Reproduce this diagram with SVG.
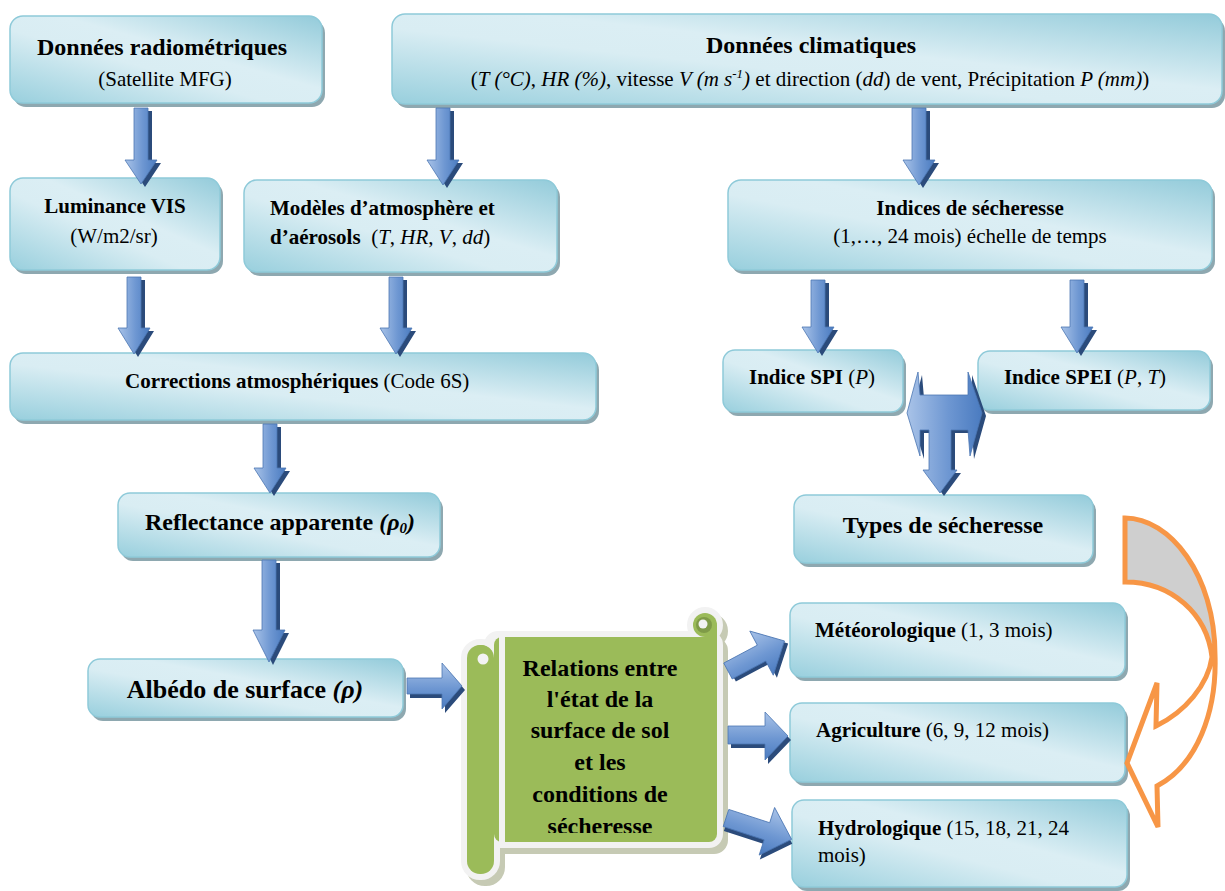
<svg xmlns="http://www.w3.org/2000/svg" width="1225" height="891" viewBox="0 0 1225 891">
  <defs>
    <linearGradient id="boxGrad" x1="1" y1="0" x2="0" y2="1">
      <stop offset="0" stop-color="#93cbda"/>
      <stop offset="0.42" stop-color="#dbeef4"/>
      <stop offset="0.58" stop-color="#d9edf3"/>
      <stop offset="1" stop-color="#98cfdd"/>
    </linearGradient>
    <linearGradient id="arrV" x1="0" y1="0" x2="1" y2="0">
      <stop offset="0" stop-color="#a9c3e8"/>
      <stop offset="0.55" stop-color="#6e97d2"/>
      <stop offset="1" stop-color="#4a7bc0"/>
    </linearGradient>
    <linearGradient id="arrH" x1="0" y1="0" x2="0" y2="1">
      <stop offset="0" stop-color="#a9c3e8"/>
      <stop offset="0.55" stop-color="#6e97d2"/>
      <stop offset="1" stop-color="#4a7bc0"/>
    </linearGradient>
    <clipPath id="scrollTextClip">
      <rect x="490" y="640" width="225" height="193"/>
    </clipPath>
    <style>
      .box { fill: url(#boxGrad); stroke: #8ecad9; stroke-width: 1.5; }
      .shd { fill: #8ea8b0; }
      .t { font-family: "Liberation Serif", "Times New Roman", serif; fill: #000; }
      .b { font-weight: bold; }
      .i { font-style: italic; }
      .arr { fill: url(#arrV); stroke: #4b76b3; stroke-width: 0.8; }
      .arrh { fill: url(#arrH); stroke: #4b76b3; stroke-width: 0.8; }
      .arrS { fill: #2b4b7b; }
      .green { fill: #9bbb59; }
    </style>
  </defs>

  <!-- Source data -->
  <g id="radiometric">
    <rect class="shd" x="13" y="20" width="312" height="87" rx="13"/>
    <rect class="box" x="10" y="16" width="312" height="87" rx="13"/>
    <text class="t b" x="162" y="55" font-size="24" text-anchor="middle">Données radiométriques</text>
    <text class="t" x="165" y="86" font-size="21" text-anchor="middle">(Satellite MFG)</text>
  </g>

  <g id="climatic">
    <rect class="shd" x="395" y="18" width="830" height="90" rx="13"/>
    <rect class="box" x="392" y="14" width="830" height="90" rx="13"/>
    <text class="t b" x="811" y="53" font-size="24" text-anchor="middle">Données climatiques</text>
    <text class="t" x="810" y="86" font-size="21" text-anchor="middle">(<tspan class="i">T (°C)</tspan>, <tspan class="i">HR (%)</tspan>, vitesse <tspan class="i">V (m s</tspan><tspan class="i" font-size="13" dy="-8">-1</tspan><tspan class="i" dy="8">)</tspan> et direction (<tspan class="i">dd</tspan>) de vent, Précipitation <tspan class="i">P (mm)</tspan>)</text>
  </g>

  <!-- Processing chain -->
  <g id="luminance">
    <rect class="shd" x="13" y="182" width="210" height="92" rx="13"/>
    <rect class="box" x="10" y="178" width="210" height="92" rx="13"/>
    <text class="t b" x="115" y="213" font-size="21" text-anchor="middle">Luminance VIS</text>
    <text class="t" x="114" y="243" font-size="21" text-anchor="middle">(W/m2/sr)</text>
  </g>

  <g id="models">
    <rect class="shd" x="247" y="184" width="313" height="92" rx="13"/>
    <rect class="box" x="244" y="180" width="313" height="92" rx="13"/>
    <text class="t b" x="270" y="215" font-size="21">Modèles d’atmosphère et</text>
    <text class="t" x="270" y="244" font-size="21"><tspan class="b">d’aérosols</tspan>&#160; (<tspan class="i">T</tspan>, <tspan class="i">HR</tspan>, <tspan class="i">V</tspan>, <tspan class="i">dd</tspan>)</text>
  </g>

  <g id="corrections">
    <rect class="shd" x="13" y="357" width="586" height="67" rx="13"/>
    <rect class="box" x="10" y="353" width="586" height="67" rx="13"/>
    <text class="t" x="125" y="388" font-size="21"><tspan class="b">Corrections atmosphériques</tspan> (Code 6S)</text>
  </g>

  <g id="reflectance">
    <rect class="shd" x="121" y="497" width="322" height="64" rx="12"/>
    <rect class="box" x="118" y="493" width="322" height="64" rx="12"/>
    <text class="t b" x="280" y="530" font-size="24" text-anchor="middle">Reflectance apparente <tspan class="i">(ρ<tspan font-size="15" dy="3">0</tspan><tspan dy="-3">)</tspan></tspan></text>
  </g>

  <g id="albedo">
    <rect class="shd" x="91" y="663" width="315" height="58" rx="12"/>
    <rect class="box" x="88" y="659" width="315" height="58" rx="12"/>
    <text class="t b" x="245" y="698" font-size="26" text-anchor="middle">Albédo de surface <tspan class="i">(ρ)</tspan></text>
  </g>

  <!-- Drought indices -->
  <g id="indices">
    <rect class="shd" x="731" y="184" width="484" height="90" rx="13"/>
    <rect class="box" x="728" y="180" width="484" height="90" rx="13"/>
    <text class="t b" x="970" y="215" font-size="21" text-anchor="middle">Indices de sécheresse</text>
    <text class="t" x="970" y="243" font-size="21" text-anchor="middle">(1,…, 24 mois) échelle de temps</text>
  </g>

  <g id="spi">
    <rect class="shd" x="726" y="354" width="180" height="62" rx="12"/>
    <rect class="box" x="723" y="350" width="180" height="62" rx="12"/>
    <text class="t" x="812" y="384" font-size="21" text-anchor="middle"><tspan class="b">Indice SPI</tspan> (<tspan class="i">P</tspan>)</text>
  </g>

  <g id="spei">
    <rect class="shd" x="981" y="355" width="232" height="59" rx="12"/>
    <rect class="box" x="978" y="351" width="232" height="59" rx="12"/>
    <text class="t" x="1085" y="384" font-size="21" text-anchor="middle"><tspan class="b">Indice SPEI</tspan> (<tspan class="i">P</tspan>, <tspan class="i">T</tspan>)</text>
  </g>

  <g id="types">
    <rect class="shd" x="797" y="499" width="299" height="68" rx="12"/>
    <rect class="box" x="794" y="495" width="299" height="68" rx="12"/>
    <text class="t b" x="943" y="533" font-size="24" text-anchor="middle">Types de sécheresse</text>
  </g>

  <g id="meteo">
    <rect class="shd" x="793" y="607" width="335" height="74" rx="12"/>
    <rect class="box" x="790" y="603" width="335" height="74" rx="12"/>
    <text class="t" x="815" y="637" font-size="21"><tspan class="b">Météorologique</tspan> (1, 3 mois)</text>
  </g>

  <g id="agriculture">
    <rect class="shd" x="793" y="707" width="335" height="79" rx="12"/>
    <rect class="box" x="790" y="703" width="335" height="79" rx="12"/>
    <text class="t" x="816" y="737" font-size="21"><tspan class="b">Agriculture</tspan> (6, 9, 12 mois)</text>
  </g>

  <g id="hydrologique">
    <rect class="shd" x="795" y="804" width="335" height="87" rx="12"/>
    <rect class="box" x="792" y="800" width="335" height="87" rx="12"/>
    <text class="t" x="818" y="835" font-size="21"><tspan class="b">Hydrologique</tspan> (15, 18, 21, 24</text>
    <text class="t" x="818" y="862" font-size="21">mois)</text>
  </g>

  <!-- Scroll: soil surface / drought relations -->
  <g id="relations">
    <g transform="translate(5,6)" fill="#c6cab4" stroke="#c6cab4" stroke-width="12" stroke-linejoin="round">
      <rect x="490" y="637" width="227" height="205" rx="8"/>
      <circle cx="705" cy="625" r="12"/>
      <rect x="467" y="645" width="27" height="229" rx="13"/>
    </g>
    <g fill="#f2f2f2" stroke="#f2f2f2" stroke-width="12" stroke-linejoin="round">
      <rect x="490" y="637" width="227" height="205" rx="8"/>
      <circle cx="705" cy="625" r="12"/>
      <rect x="467" y="645" width="27" height="229" rx="13"/>
    </g>
    <rect class="green" x="494" y="637" width="223" height="205" rx="8"/>
    <circle class="green" cx="705" cy="625" r="12"/>
    <rect class="green" x="705" y="625" width="12" height="20"/>
    <circle cx="704" cy="625" r="8" fill="#7f9b48"/>
    <circle cx="703" cy="624" r="4.5" fill="#f2f2f2"/>
    <rect x="499" y="637" width="6" height="205" fill="#f2f2f2"/>
    <rect class="green" x="467" y="645" width="27" height="229" rx="13"/>
    <circle class="green" cx="481" cy="657" r="12"/>
    <circle cx="483" cy="659" r="5.5" fill="#f2f2f2"/>
    <g class="t b" font-size="24" text-anchor="middle" clip-path="url(#scrollTextClip)">
      <text x="600" y="676">Relations entre</text>
      <text x="600" y="707">l'état de la</text>
      <text x="600" y="738">surface de sol</text>
      <text x="600" y="770">et les</text>
      <text x="600" y="802">conditions de</text>
      <text x="600" y="834">sécheresse</text>
    </g>
  </g>

  <!-- Block arrows -->
  <g id="connectors">
    <!-- radiometric -> luminance -->
    <polygon class="arrS" transform="translate(4,3)" points="134,108 148,108 148,160 157,160 141,184 125,160 134,160"/>
    <polygon class="arr" points="134,108 148,108 148,160 157,160 141,184 125,160 134,160"/>
    <!-- climatic -> models -->
    <polygon class="arrS" transform="translate(4,3)" points="436,108 450,108 450,160 459,160 443,185 427,160 436,160"/>
    <polygon class="arr" points="436,108 450,108 450,160 459,160 443,185 427,160 436,160"/>
    <!-- climatic -> indices -->
    <polygon class="arrS" transform="translate(4,3)" points="912,108 926,108 926,160 935,160 919,185 903,160 912,160"/>
    <polygon class="arr" points="912,108 926,108 926,160 935,160 919,185 903,160 912,160"/>
    <!-- luminance -> corrections -->
    <polygon class="arrS" transform="translate(4,3)" points="127,277 141,277 141,328 150,328 134,354 118,328 127,328"/>
    <polygon class="arr" points="127,277 141,277 141,328 150,328 134,354 118,328 127,328"/>
    <!-- models -> corrections -->
    <polygon class="arrS" transform="translate(4,3)" points="389,277 403,277 403,328 412,328 396,354 380,328 389,328"/>
    <polygon class="arr" points="389,277 403,277 403,328 412,328 396,354 380,328 389,328"/>
    <!-- corrections -> reflectance -->
    <polygon class="arrS" transform="translate(4,3)" points="263,424 277,424 277,468 286,468 270,493 254,468 263,468"/>
    <polygon class="arr" points="263,424 277,424 277,468 286,468 270,493 254,468 263,468"/>
    <!-- reflectance -> albedo -->
    <polygon class="arrS" transform="translate(4,3)" points="262,560 276,560 276,630 285,630 269,662 253,630 262,630"/>
    <polygon class="arr" points="262,560 276,560 276,630 285,630 269,662 253,630 262,630"/>
    <!-- indices -> SPI -->
    <polygon class="arrS" transform="translate(4,3)" points="811,280 825,280 825,327 834,327 818,353 802,327 811,327"/>
    <polygon class="arr" points="811,280 825,280 825,327 834,327 818,353 802,327 811,327"/>
    <!-- indices -> SPEI -->
    <polygon class="arrS" transform="translate(4,3)" points="1070,280 1084,280 1084,327 1093,327 1077,353 1061,327 1070,327"/>
    <polygon class="arr" points="1070,280 1084,280 1084,327 1093,327 1077,353 1061,327 1070,327"/>
    <!-- SPI <-> SPEI, down to drought types -->
    <polygon class="arrS" transform="translate(4,3)" points="907,413 918,372 920,395 968,395 968,372 982,413 970,456 968,430 951,430 951,470 957,470 940,493 923,470 929,470 929,430 920,430 920,456"/>
    <polygon class="arr" points="907,413 918,372 920,395 968,395 968,372 982,413 970,456 968,430 951,430 951,470 957,470 940,493 923,470 929,470 929,430 920,430 920,456"/>
    <!-- albedo -> relations -->
    <polygon class="arrS" transform="translate(3,4)" points="407,678 442,678 442,663 462,686 442,709 442,694 407,694"/>
    <polygon class="arrh" points="407,678 442,678 442,663 462,686 442,709 442,694 407,694"/>
    <!-- relations -> meteorological -->
    <g transform="translate(728,671) rotate(-28)">
      <polygon class="arrS" transform="translate(2,4)" points="0,-9 38,-9 38,-25 64,0 38,25 38,9 0,9"/>
      <polygon class="arrh" points="0,-9 38,-9 38,-25 64,0 38,25 38,9 0,9"/>
    </g>
    <!-- relations -> agriculture -->
    <polygon class="arrS" transform="translate(3,4)" points="728,726 765,726 765,712 788,736 765,760 765,744 728,744"/>
    <polygon class="arrh" points="728,726 765,726 765,712 788,736 765,760 765,744 728,744"/>
    <!-- relations -> hydrological -->
    <g transform="translate(726,818) rotate(18)">
      <polygon class="arrS" transform="translate(2,4)" points="0,-9 43,-9 43,-25 69,0 43,25 43,9 0,9"/>
      <polygon class="arrh" points="0,-9 43,-9 43,-25 69,0 43,25 43,9 0,9"/>
    </g>
    <!-- curved return arrow on the right -->
    <path d="M1125,518 C1170,518 1215,575 1215,655 C1207,614 1172,582 1125,582 Z" fill="#cfcfcf"/>
    <path d="M1125,518 C1170,518 1215,575 1215,655 C1217,712 1197,765 1157,786 L1158,827 L1127,763 L1157,683 L1156,726 C1185,712 1208,685 1212,657 C1207,614 1172,582 1125,582 Z" fill="none" stroke="#f79646" stroke-width="5" stroke-linejoin="miter"/>
  </g>
</svg>
